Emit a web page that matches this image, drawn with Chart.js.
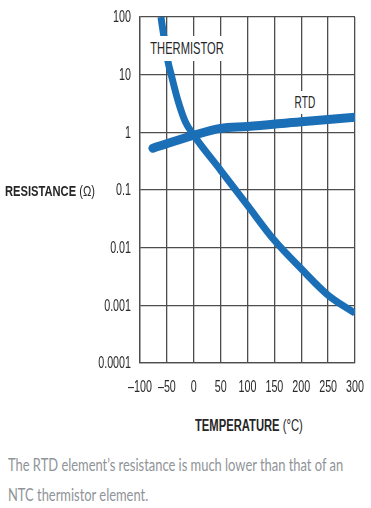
<!DOCTYPE html>
<html>
<head>
<meta charset="utf-8">
<script src="https://cdn.jsdelivr.net/npm/chart.js@4"></script>
<style>
  html, body { margin:0; padding:0; background:#fff; }
  body { width:371px; height:508px; position:relative; overflow:hidden; }
  #wrap { position:absolute; left:0; top:0; width:371px; height:400px; }
  .lbl { position:absolute; font-family:"Liberation Sans",Arial,sans-serif; color:#262626; white-space:nowrap; line-height:1; transform-origin:0 50%; }
  .axt { font-weight:bold; }
  .axt span { font-weight:normal; }
  .tag { background:#fff; font-size:17px; }
  .cap { position:absolute; left:8px; font-family:Lato,"Open Sans",sans-serif; font-size:18px; line-height:1; color:#8f9499; white-space:nowrap; transform-origin:0 50%; }
</style>
</head>
<body>
<div id="wrap"><canvas id="c"></canvas></div>
<div class="lbl axt" id="yt" style="left:5px;top:183px;font-size:15px;">RESISTANCE <span>(Ω)</span></div>
<div class="lbl axt" id="xt" style="left:195px;top:418px;font-size:16px;">TEMPERATURE <span>(°C)</span></div>
<div class="lbl tag" id="tt" style="left:149px;top:36px;padding:4px 2px;">THERMISTOR</div>
<div class="lbl tag" id="rt" style="left:294px;top:91px;padding:3px 1px;">RTD</div>
<div class="cap" id="c1" style="top:455px;">The RTD element’s resistance is much lower than that of an</div>
<div class="cap" id="c2" style="top:485px;">NTC thermistor element.</div>
<script>
var THERM_T = [-61, -57, -48, -42, -29, -16, 0, 50, 100, 150, 200, 250, 300];
var THERM_R = [100, 56, 17, 10, 3.45, 1.55, 0.89, 0.22, 0.054, 0.0134, 0.0043, 0.0015, 0.00073];
var RTD_T = [-76, 0, 50, 100, 200, 300];
var RTD_R = [0.53, 0.89, 1.17, 1.26, 1.53, 1.82];
var X_TICKS = [-100, -50, 0, 50, 100, 150, 200, 250, 300];
var Y_TICKS = [0.0001, 0.001, 0.01, 0.1, 1, 10, 100];
var BLUE = '#1b6fb6';

function pts(xs, ys) {
  return xs.map(function(x, i) { return {x:x, y:ys[i]}; });
}

/* squeeze a label to the width it has in the print */
function fit(id, w) {
  var el = document.getElementById(id);
  el.style.transform = 'scaleX(' + (w / el.offsetWidth) + ')';
  return w / el.offsetWidth;
}
fit('yt', 90); fit('xt', 108); fit('tt', 76); fit('rt', 22);
var s = fit('c1', 335);
document.getElementById('c2').style.transform = 'scaleX(' + s + ')';

/* condensed tick labels */
var tickLabels = {
  id:'tickLabels',
  afterDraw:function(chart) {
    var ctx = chart.ctx, xs = chart.scales.x, ys = chart.scales.y;
    ctx.save();
    ctx.fillStyle = '#2a2a2a';
    ctx.font = '16px "Liberation Sans", Arial, sans-serif';
    ctx.textBaseline = 'middle';
    ctx.textAlign = 'right';
    Y_TICKS.forEach(function(v) {
      ctx.save();
      ctx.translate(131, ys.getPixelForValue(v) + 1);
      ctx.scale(0.67, 1);
      ctx.fillText(String(v), 0, 0);
      ctx.restore();
    });
    ctx.textAlign = 'center';
    X_TICKS.forEach(function(v) {
      ctx.save();
      ctx.translate(xs.getPixelForValue(v), 388);
      ctx.scale(0.67, 1);
      ctx.fillText(v < 0 ? '\u2013' + Math.abs(v) : String(v), 0, 0);
      ctx.restore();
    });
    ctx.restore();
  }
};

new Chart(document.getElementById('c'), {
  type:'line',
  data:{
    datasets:[
      {label:'Thermistor', data:pts(THERM_T, THERM_R), borderColor:BLUE, borderWidth:7, pointRadius:0, cubicInterpolationMode:'monotone'},
      {label:'RTD', data:pts(RTD_T, RTD_R), borderColor:BLUE, borderWidth:9, pointRadius:0, cubicInterpolationMode:'monotone', borderCapStyle:'round'}
    ]
  },
  options:{
    responsive:true, maintainAspectRatio:false, animation:false,
    layout:{padding:{top:17, right:16, left:0, bottom:0}},
    plugins:{legend:{display:false}, tooltip:{enabled:false}},
    scales:{
      x:{
        type:'linear', min:-100, max:300,
        grid:{color:'#4d4d4d', lineWidth:1.3, drawTicks:false},
        border:{color:'#4d4d4d', width:1.3},
        afterBuildTicks:function(sc){ sc.ticks = X_TICKS.map(function(v){ return {value:v}; }); },
        ticks:{display:false},
        afterFit:function(sc){ sc.height = 37; }
      },
      y:{
        type:'logarithmic', min:0.0001, max:100,
        grid:{color:'#4d4d4d', lineWidth:1.3, drawTicks:false},
        border:{color:'#4d4d4d', width:1.3},
        afterBuildTicks:function(sc){ sc.ticks = Y_TICKS.map(function(v){ return {value:v}; }); },
        ticks:{display:false},
        afterFit:function(sc){ sc.width = 140; }
      }
    }
  },
  plugins:[tickLabels]
});
</script>
</body>
</html>
